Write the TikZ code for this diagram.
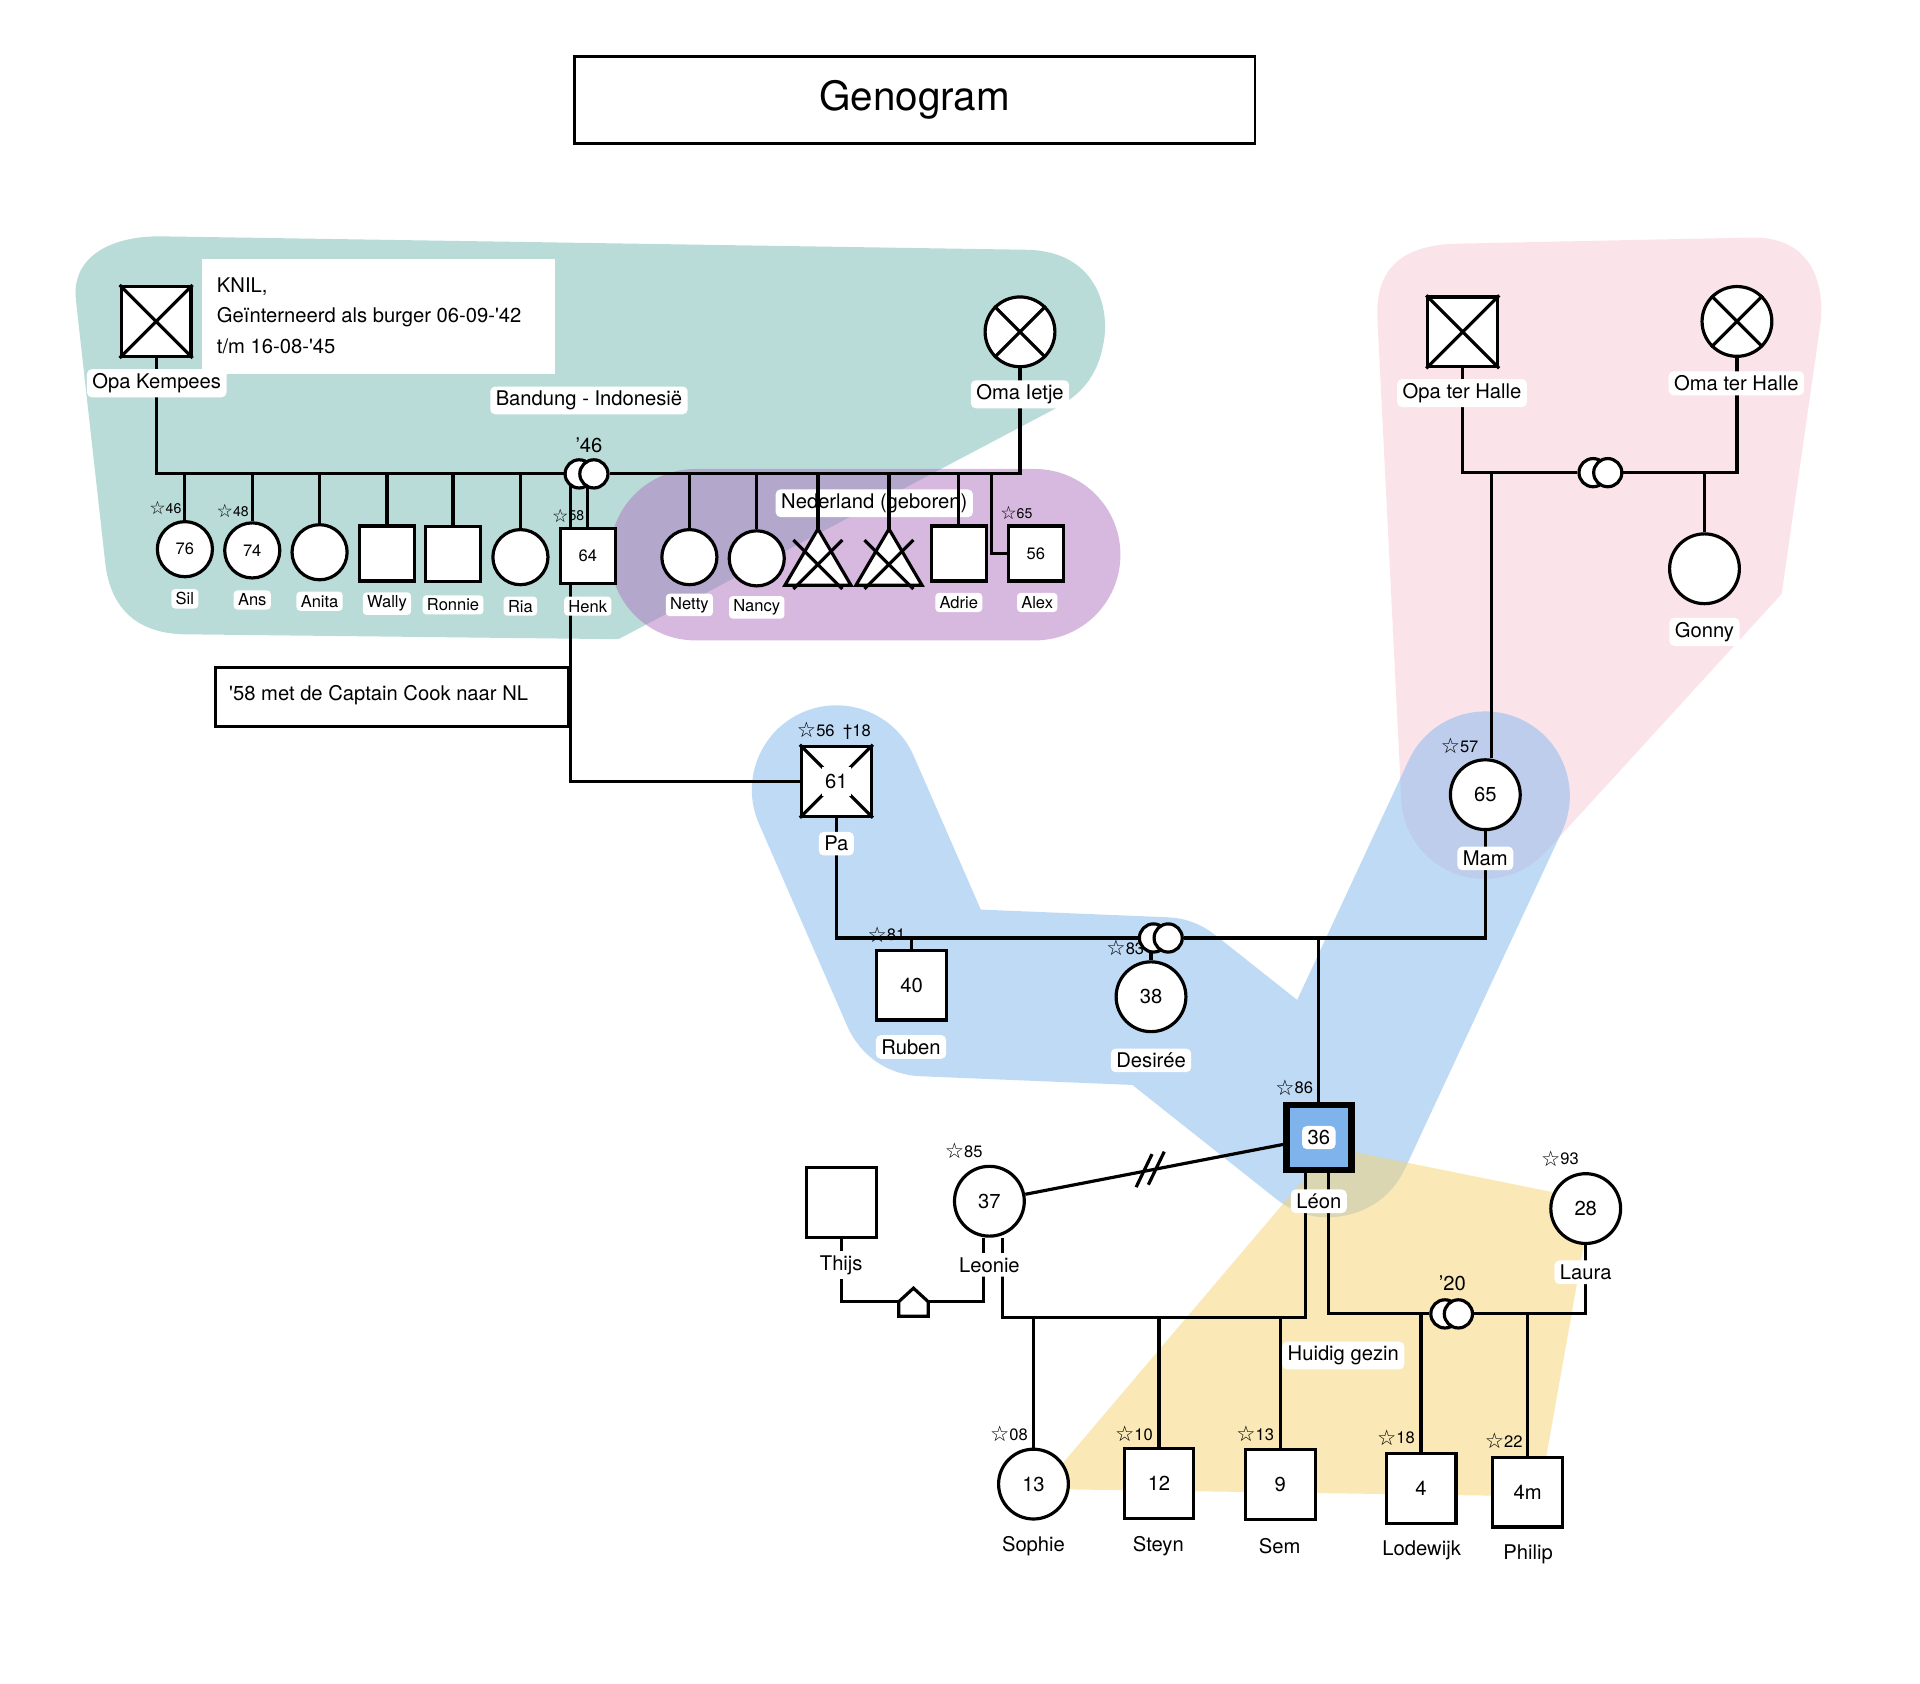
\documentclass[tikz,border=0pt]{standalone}
\usepackage{fontspec}
\usepackage{graphicx}
\setmainfont{TeX Gyre Heros}
\newfontfamily\symf{DejaVu Sans}
\usetikzlibrary{calc}
\pgfdeclarelayer{regions}
\pgfdeclarelayer{lines}
\pgfsetlayers{regions,lines,main}
\newcommand{\mystar}{{\symf\raisebox{-0.08em}{\scalebox{1.3}{\char"2606}}}}
\newcommand{\myfs}[1]{\fontsize{#1}{#1}\selectfont}
\definecolor{tealr}{RGB}{185,220,217}
\definecolor{purpr}{RGB}{177,115,193}
\definecolor{pinkr}{RGB}{250,228,234}
\definecolor{bluer}{RGB}{129,183,237}
\definecolor{yellr}{RGB}{247,211,113}
\definecolor{leonblue}{RGB}{126,179,236}
\tikzset{
  ln/.style={line width=2.6pt},
  bigsq/.style={draw, line width=2.6pt, fill=white, minimum size=57pt, inner sep=0pt, font=\myfs{16.5}},
  bigci/.style={draw, circle, line width=2.6pt, fill=white, minimum size=57pt, inner sep=0pt, font=\myfs{16.5}},
  smsq/.style={bigsq, minimum size=45pt, font=\myfs{13.5}},
  smci/.style={bigci, minimum size=45pt, font=\myfs{13.5}},
  lbl/.style={fill=white, rounded corners=4pt, inner xsep=4.5pt, inner ysep=3.5pt, font=\myfs{16.5}},
  lbls/.style={fill=white, rounded corners=3pt, inner xsep=3.5pt, inner ysep=2.8pt, font=\myfs{13.5}},
  txt/.style={inner sep=0pt, font=\myfs{16.5}},
  stb/.style={inner sep=0pt, font=\myfs{13.5}},
  sts/.style={inner sep=0pt, font=\myfs{11.5}},
  mar/.style={draw, circle, line width=2.6pt, fill=white, minimum size=23pt, inner sep=0pt},
}
\begin{document}
\begin{tikzpicture}[x=1pt,y=-1pt]
\useasboundingbox (0,0) rectangle (1568,1375);

% ---------------- regions ----------------
\begin{pgfonlayer}{regions}
\fill[white] (0,0) rectangle (1568,1375);
\fill[tealr] (130,193) -- (840,204) .. controls (895,206) and (905,250) .. (902,275)
  .. controls (898,305) and (885,320) .. (865,332) -- (505,522) -- (150,518)
  .. controls (110,517) and (90,495) .. (86,460) -- (62,245)
  .. controls (58,210) and (90,193) .. (130,193) -- cycle;
\fill[purpr, fill opacity=0.5, rounded corners=70pt] (498,383) rectangle (915,523);
\fill[pinkr] (1125,262) .. controls (1122,215) and (1150,200) .. (1190,199) -- (1430,194)
  .. controls (1475,193) and (1490,225) .. (1487,262) -- (1455,485) -- (1263,695)
  arc[start angle=41.7, end angle=180, radius=68] -- cycle;
\draw[bluer, draw opacity=0.5, line width=138pt, line cap=round, line join=round]
  (683,645) -- (755,810) -- (950,818) -- (1085,925) -- (1213,650);
\fill[yellr, fill opacity=0.5] (1087,937) -- (1300,980) -- (1257,1222) -- (850,1216) -- cycle;
\node[lbl] (nedl) at (714,411) {Nederland (geboren)};
\end{pgfonlayer}

% ---------------- title & notes ----------------
\node[draw, line width=2.2pt, minimum width=556pt, minimum height=71pt, font=\myfs{33}] (title) at (747,81.5) {Genogram};
\node[fill=white, minimum width=288pt, minimum height=94pt, anchor=north west, inner sep=0pt] (knil) at (165,211) {};
\node[txt, anchor=west] (knil1) at (177,234) {KNIL,};
\node[txt, anchor=west] (knil2) at (177,259) {Geïnterneerd als burger 06-09-\textquotesingle42};
\node[txt, anchor=west] (knil3) at (177,283) {t/m 16-08-\textquotesingle45};
\node[draw, line width=2.6pt, fill=white, minimum width=288pt, minimum height=48pt, anchor=north west, inner sep=0pt] (cook) at (175,544) {};
\node[txt, anchor=west] (cookt) at (187,568) {\textquotesingle58 met de Captain Cook naar NL};

% ---------------- generation 0 ----------------
\node[bigsq] (opak) at (127.5,262.5) {};
\draw[ln] (opak.north west) -- (opak.south east) (opak.north east) -- (opak.south west);
\node[bigci] (omai) at (833,271) {};
\draw[ln] (omai.45) -- (omai.225) (omai.135) -- (omai.315);
\node[bigsq] (opath) at (1194.5,271) {};
\draw[ln] (opath.north west) -- (opath.south east) (opath.north east) -- (opath.south west);
\node[bigci] (omath) at (1418.5,262.5) {};
\draw[ln] (omath.45) -- (omath.225) (omath.135) -- (omath.315);

\node[lbl] (opakl) at (128,313) {Opa Kempees};
\node[lbl] (omail) at (833,322) {Oma Ietje};
\node[lbl] (opathl) at (1194,321) {Opa ter Halle};
\node[lbl] (omathl) at (1418,313) {Oma ter Halle};
\node[lbl] (bandl) at (481,327) {Bandung - Indonesië};
\node[txt] (y46) at (481,364) {’46};

\node[mar] (mk1) at (473,387) {};
\node[mar] (mk2) at (485,387) {};
\node[mar] (mt1) at (1301,386) {};
\node[mar] (mt2) at (1313,386) {};

% ---------------- generation 1 (Kempees) ----------------
\node[smci] (sil) at (151,448.5) {76};
\node[smci] (ans) at (206,449.5) {74};
\node[smci] (anita) at (261,451) {};
\node[smsq] (wally) at (316,452) {};
\node[smsq] (ronnie) at (370,452.5) {};
\node[smci] (ria) at (425,455) {};
\node[smsq] (henk) at (480,454) {64};
\node[smci] (netty) at (563,455) {};
\node[smci] (nancy) at (618,456) {};
\node[smsq] (adrie) at (783,452) {};
\node[smsq] (alex) at (846,452) {56};
\coordinate (t1) at (668,432);
\coordinate (t2) at (726,432);
\draw[ln, fill=white] (t1) -- (695,478) -- (641,478) -- cycle;
\draw[ln] (648,441) -- (688,481) (688,441) -- (648,481);
\draw[ln, fill=white] (t2) -- (753,478) -- (699,478) -- cycle;
\draw[ln] (706,441) -- (746,481) (746,441) -- (706,481);

\node[sts] (s46) at (135,415) {\mystar46};
\node[sts] (s48) at (190,417) {\mystar48};
\node[sts] (s58) at (464,421) {\mystar58};
\node[sts] (s65) at (830,419) {\mystar65};

\node[lbls] at (151,489) {Sil};
\node[lbls] at (206,490) {Ans};
\node[lbls] at (261,491) {Anita};
\node[lbls] at (316,493) {Wally};
\node[lbls] at (370,494) {Ronnie};
\node[lbls] at (425,495) {Ria};
\node[lbls] at (480,495) {Henk};
\node[lbls] at (563,494) {Netty};
\node[lbls] at (618,496) {Nancy};
\node[lbls] at (783,492) {Adrie};
\node[lbls] at (847,492) {Alex};

% ter Halle child
\node[bigci] (gonny) at (1392,464.5) {};
\node[lbl] at (1392,516) {Gonny};

% ---------------- generation 2 ----------------
\node[bigsq] (pa) at (683,638) {};
\draw[ln] (pa.north west) -- (pa.south east) (pa.north east) -- (pa.south west);
\node[fill=white, minimum width=24pt, minimum height=24pt, inner sep=0pt, font=\myfs{16.5}] (pan) at (pa) {61};
\node[stb] (spa) at (681,597) {\mystar56\hspace{7pt}†18};
\node[lbl] at (683,689) {Pa};

\node[bigci] (mam) at (1213,649) {65};
\node[stb] at (1192,609) {\mystar57};
\node[lbl] at (1213,701) {Mam};

\node[mar] (mp1) at (942,766) {};
\node[mar] (mp2) at (954,766) {};

\node[bigsq] (ruben) at (744.5,804.5) {40};
\node[stb] at (724,763) {\mystar81};
\node[lbl] at (744,855) {Ruben};

\node[bigci] (desiree) at (940,814) {38};
\node[stb] at (919,774) {\mystar83};
\node[lbl] at (940,866) {Desirée};

\node[draw, line width=5.5pt, fill=leonblue, minimum size=53pt, inner sep=0pt] (leon) at (1077,929) {};
\node[lbl] at (leon) {36};
\node[stb] at (1057,888) {\mystar86};
\node[lbl] at (1077,981) {Léon};

\node[bigci] (leonie) at (808,981) {37};
\node[stb] at (787,940) {\mystar85};
\node[lbl] at (808,1033) {Leonie};

\node[bigsq] (thijs) at (687,982) {};
\node[lbl] at (687,1033) {Thijs};

\node[bigci] (laura) at (1295,987) {28};
\node[stb] at (1274,946) {\mystar93};
\node[lbl] at (1295,1039) {Laura};

\node[mar] (ml1) at (1180,1073) {};
\node[mar] (ml2) at (1191,1073) {};
\node[txt] at (1186,1048) {’20};
\node[lbl] at (1097,1107) {Huidig gezin};

\draw[ln, fill=white] (734,1075) -- (758,1075) -- (758,1063) -- (746,1052) -- (734,1063) -- cycle;

% ---------------- generation 3 ----------------
\node[bigci] (sophie) at (844,1212) {13};
\node[bigsq] (steyn) at (946.5,1211.5) {12};
\node[bigsq] (sem) at (1045.5,1212.5) {9};
\node[bigsq] (lode) at (1160.5,1215.5) {4};
\node[bigsq] (philip) at (1247.5,1218.5) {4m};
\node[stb] at (824,1171) {\mystar08};
\node[stb] at (926,1171) {\mystar10};
\node[stb] at (1025,1171) {\mystar13};
\node[stb] at (1140,1174) {\mystar18};
\node[stb] at (1228,1177) {\mystar22};
\node[txt] at (844,1263) {Sophie};
\node[txt] at (946,1263) {Steyn};
\node[txt] at (1045,1263) {Sem};
\node[txt] at (1161,1266) {Lodewijk};
\node[txt] at (1248,1269) {Philip};

% ---------------- connectors ----------------
\begin{pgfonlayer}{lines}
\draw[ln] (opak.south) |- (mk1.west);
\draw[ln] (mk2.east) -| (omai.south);
\foreach \c in {sil,ans,anita,wally,ronnie,ria,henk,netty,nancy,adrie}
  \draw[ln] (\c.north) -- (\c.north |- mk1.center);
\draw[ln] (t1) -- (t1 |- mk1.center);
\draw[ln] (t2) -- (t2 |- mk1.center);
\coordinate (hj) at (466,387);
\draw[ln] (hj) |- (pa.west);
\coordinate (aj) at (810,387);
\draw[ln] (aj) |- (alex.west);

\draw[ln] (opath.south) |- (mt1.west);
\draw[ln] (mt2.east) -| (omath.south);
\coordinate (mj) at (1218,386);
\draw[ln] (mj) -- (mj |- mam.north);
\draw[ln] (gonny.north) -- (gonny.north |- mt1.center);

\draw[ln] (pa.south) |- (mp1.west);
\draw[ln] (mp2.east) -| (mam.south);
\draw[ln] (ruben.north) -- (ruben.north |- mp1.center);
\draw[ln] (desiree.north) -- (desiree.north |- mp1.center);
\draw[ln] (leon.north) -- (leon.north |- mp1.center);

\draw[ln] (leonie) -- (leon);
\coordinate (dv) at ($(leonie)!0.49!(leon)$);
\draw[ln] ($(dv)+(-12,14)$) -- ($(dv)+(1,-13)$);
\draw[ln] ($(dv)+(-2,12)$) -- ($(dv)+(11,-15)$);

\coordinate (lt) at (803,1063);
\draw[ln] (thijs.south) |- (lt) -- (lt |- leonie.south);

\coordinate (lc) at (819,1076);
\coordinate (lc2) at (1066,1076);
\draw[ln] (lc |- leonie.south) -- (lc) -- (lc2) -- (lc2 |- leon.south);
\foreach \c in {sophie,steyn,sem}
  \draw[ln] (\c.north) -- (\c.north |- lc);

\coordinate (ll) at (1085,1073);
\draw[ln] (ll |- leon.south) -- (ll) -- (ml1.west);
\draw[ln] (ml2.east) -| (laura.south);
\foreach \c in {lode,philip}
  \draw[ln] (\c.north) -- (\c.north |- ml1.center);
\end{pgfonlayer}
\end{tikzpicture}
\end{document}
